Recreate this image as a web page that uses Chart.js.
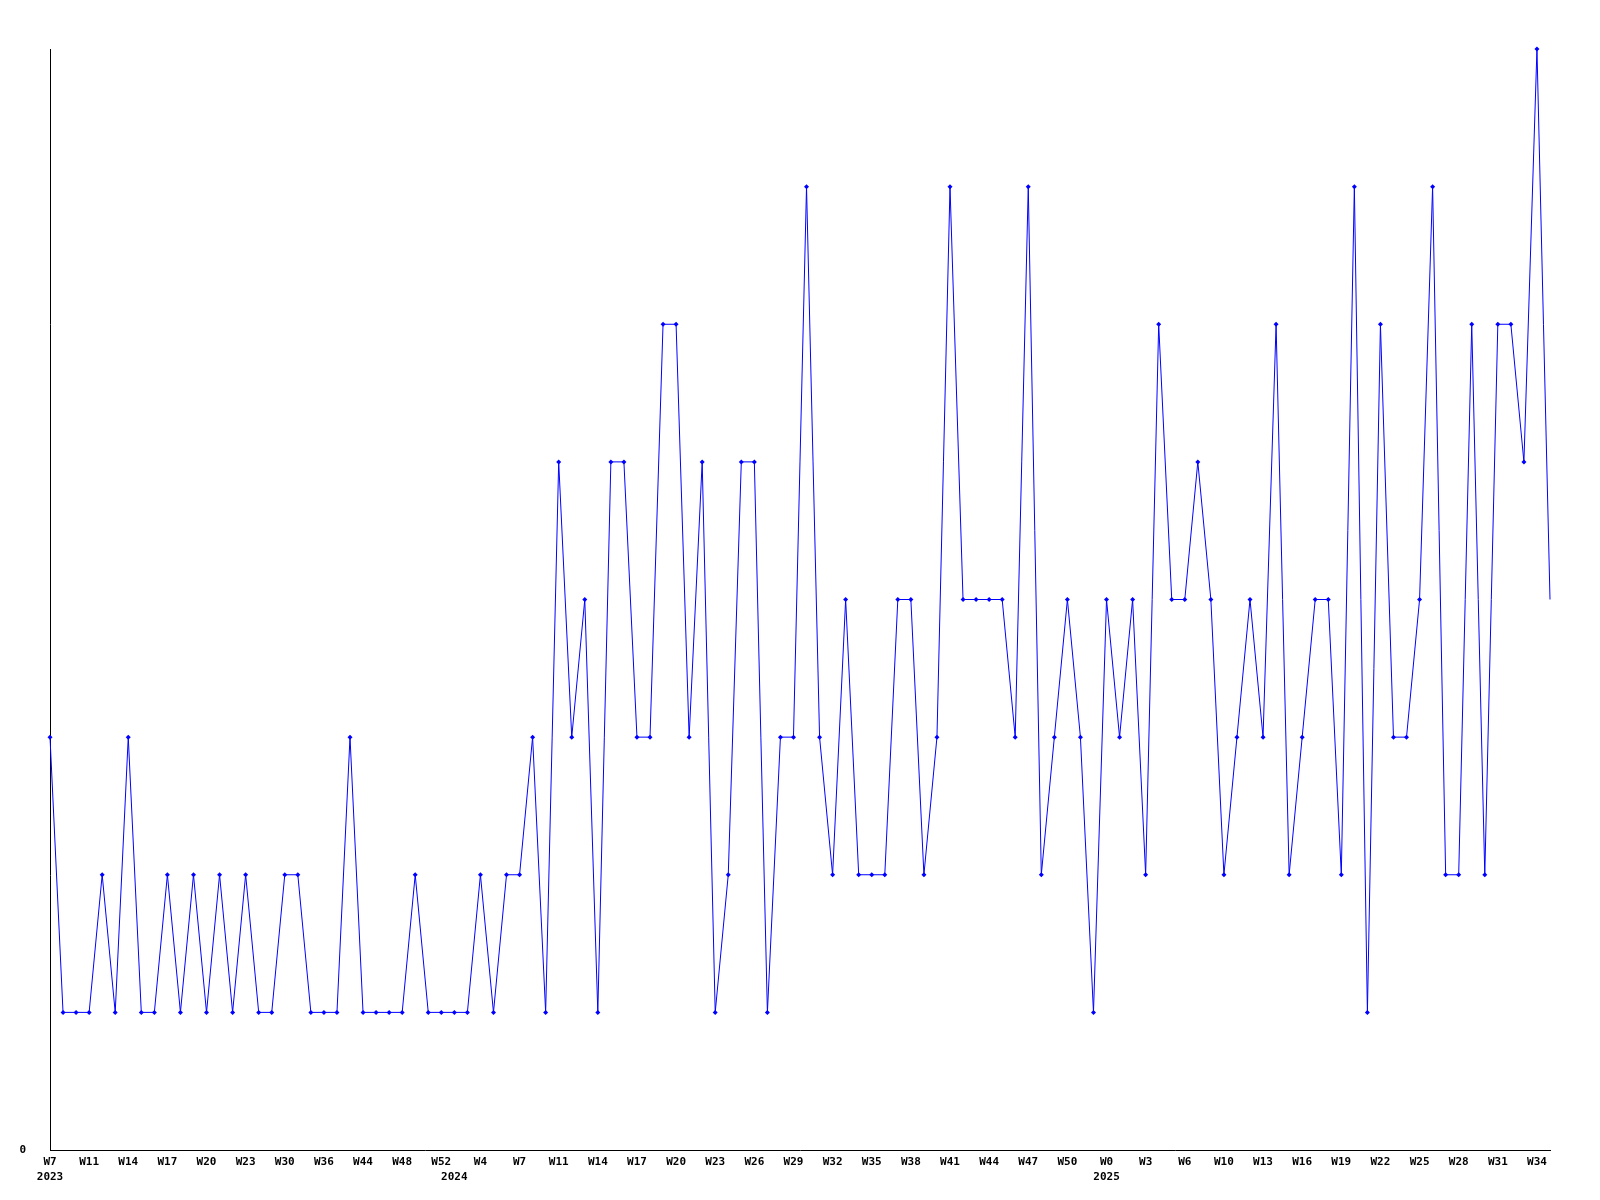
<!DOCTYPE html>
<html>
<head>
<meta charset="utf-8">
<script src="https://cdn.jsdelivr.net/npm/chart.js@4/dist/chart.umd.min.js"></script>
<style>
  body { margin: 0; background: #fff; }
</style>
</head>
<body>
<canvas id="weeklyChart" width="1600" height="1200"></canvas>
<script>
// one label on the axis for every third week
const weekTicks = [
  'W7', 'W11', 'W14', 'W17', 'W20', 'W23', 'W30', 'W36', 'W44', 'W48', 'W52',
  'W4', 'W7', 'W11', 'W14', 'W17', 'W20', 'W23', 'W26', 'W29', 'W32', 'W35',
  'W38', 'W41', 'W44', 'W47', 'W50',
  'W0', 'W3', 'W6', 'W10', 'W13', 'W16', 'W19', 'W22', 'W25', 'W28', 'W31', 'W34'
];

// year shown under the point where it starts
const yearTicks = { 0: '2023', 31: '2024', 81: '2025' };

const weeklyCounts = [
  3, 1, 1, 1, 2, 1, 3, 1, 1, 2,
  1, 2, 1, 2, 1, 2, 1, 1, 2, 2,
  1, 1, 1, 3, 1, 1, 1, 1, 2, 1,
  1, 1, 1, 2, 1, 2, 2, 3, 1, 5,
  3, 4, 1, 5, 5, 3, 3, 6, 6, 3,
  5, 1, 2, 5, 5, 1, 3, 3, 7, 3,
  2, 4, 2, 2, 2, 4, 4, 2, 3, 7,
  4, 4, 4, 4, 3, 7, 2, 3, 4, 3,
  1, 4, 3, 4, 2, 6, 4, 4, 5, 4,
  2, 3, 4, 3, 6, 2, 3, 4, 4, 2,
  7, 1, 6, 3, 3, 4, 7, 2, 2, 6,
  2, 6, 6, 5, 8, 4
];

const labels = weeklyCounts.map((v, i) => (i % 3 === 0 ? weekTicks[i / 3] : ''));
const lastIndex = weeklyCounts.length - 1;

const tickFont = { family: 'DejaVu Sans Mono', size: 11, weight: 'bold', lineHeight: 1.35 };

const ctx = document.getElementById('weeklyChart').getContext('2d');

const weeklyChart = new Chart(ctx, {
  type: 'line',
  data: {
    labels: labels,
    datasets: [{
      data: weeklyCounts,
      borderColor: '#0000ff',
      backgroundColor: '#0000ff',
      borderWidth: 1,
      tension: 0,
      pointStyle: 'rectRot',
      pointRadius: c => (c.dataIndex === lastIndex ? 0 : 2.5),
      pointBorderWidth: 0,
      clip: 6
    }]
  },
  options: {
    responsive: false,
    animation: false,
    layout: { padding: { top: 49, right: 50, left: 0, bottom: 0 } },
    plugins: {
      legend: { display: false },
      tooltip: { enabled: false }
    },
    scales: {
      x: {
        offset: false,
        grid: { display: false, drawTicks: false },
        border: { display: true, color: '#000', width: 1 },
        afterFit: s => { s.height = 50; },
        ticks: {
          autoSkip: false,
          maxRotation: 0,
          minRotation: 0,
          padding: 5,
          color: '#000',
          font: tickFont,
          callback: function (value, index) {
            const week = this.getLabelForValue(value);
            const year = yearTicks[index];
            if (year) return [week, year];
            return week;
          }
        }
      },
      y: {
        min: 0,
        max: 8,
        grid: { display: false, drawTicks: false },
        border: { display: true, color: '#000', width: 1 },
        afterFit: s => { s.width = 50; },
        ticks: {
          stepSize: 1,
          padding: 24,
          color: '#000',
          font: tickFont,
          callback: v => (v === 0 ? '0' : '')
        }
      }
    }
  }
});
</script>
</body>
</html>
